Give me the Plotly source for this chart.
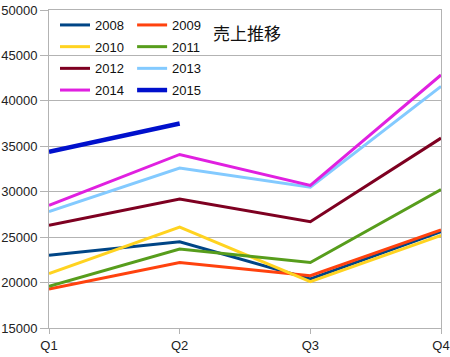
import plotly.graph_objects as go

quarters = ["Q1", "Q2", "Q3", "Q4"]
years = ["2008", "2009", "2010", "2011", "2012", "2013", "2014", "2015"]
s2008 = [23000, 24500, 20400, 25600]
s2009 = [19300, 22200, 20750, 25800]
s2010 = [21000, 26100, 20100, 25200]
s2011 = [19600, 23700, 22200, 30250]
s2012 = [26300, 29200, 26700, 35900]
s2013 = [27800, 32600, 30500, 41600]
s2014 = [28500, 34100, 30700, 42850]
s2015 = [34400, 37500, None, None]
series = [s2008, s2009, s2010, s2011, s2012, s2013, s2014, s2015]
colors = ["#004586", "#ff420e", "#ffd320", "#579d1c", "#7e0021", "#83caff", "#e020e0", "#0010cc"]
widths = [3, 3, 3, 3, 3, 3, 3, 4.5]
title_text = "売上推移"

fig = go.Figure()
for i, (y, vals) in enumerate(zip(years, series)):
    fig.add_trace(go.Scatter(
        x=quarters, y=vals, name=y, mode="lines",
        line=dict(color=colors[i], width=widths[i]),
        legend="legend" if i % 2 == 0 else "legend2",
        legendgroup=y,
    ))

font = dict(family="Liberation Sans, Arial, sans-serif", size=13, color="#222")
lfont = dict(family="Liberation Sans, Arial, sans-serif", size=13, color="#111")
fig.update_layout(
    width=450, height=357,
    margin=dict(l=49, r=9, t=10, b=29, autoexpand=False),
    plot_bgcolor="white", paper_bgcolor="white",
    font=font,
    showlegend=True,
    legend=dict(x=0.0153, y=1.0, xanchor="left", yanchor="top", bgcolor="rgba(0,0,0,0)",
                font=lfont, tracegroupgap=1.8, itemwidth=30),
    legend2=dict(x=0.212, y=1.0, xanchor="left", yanchor="top", bgcolor="rgba(0,0,0,0)",
                 font=lfont, tracegroupgap=1.8, itemwidth=30),
    annotations=[dict(text=title_text, x=0.413, y=0.93, xref="paper", yref="paper",
                      xanchor="left", yanchor="middle", showarrow=False,
                      font=dict(family="Noto Sans CJK JP", size=17, color="#111"))],
)
fig.update_xaxes(
    type="category", range=[0, 3], showgrid=False, automargin=False,
    showline=True, linecolor="#b3b3b3", linewidth=1, mirror=True,
    ticks="outside", ticklen=5, tickcolor="#b3b3b3",
    tickfont=font,
)
fig.update_yaxes(
    range=[15000, 50000], dtick=5000, tickformat="d", showgrid=True, gridcolor="#b3b3b3",
    showline=True, linecolor="#b3b3b3", linewidth=1, mirror=True, automargin=False,
    ticks="outside", ticklen=8, tickcolor="#b3b3b3",
    tickfont=font, zeroline=False,
)
fig.write_html("out.html", config={"displayModeBar": False},
               post_script="document.body.style.margin='0';document.body.style.overflow='hidden';")
